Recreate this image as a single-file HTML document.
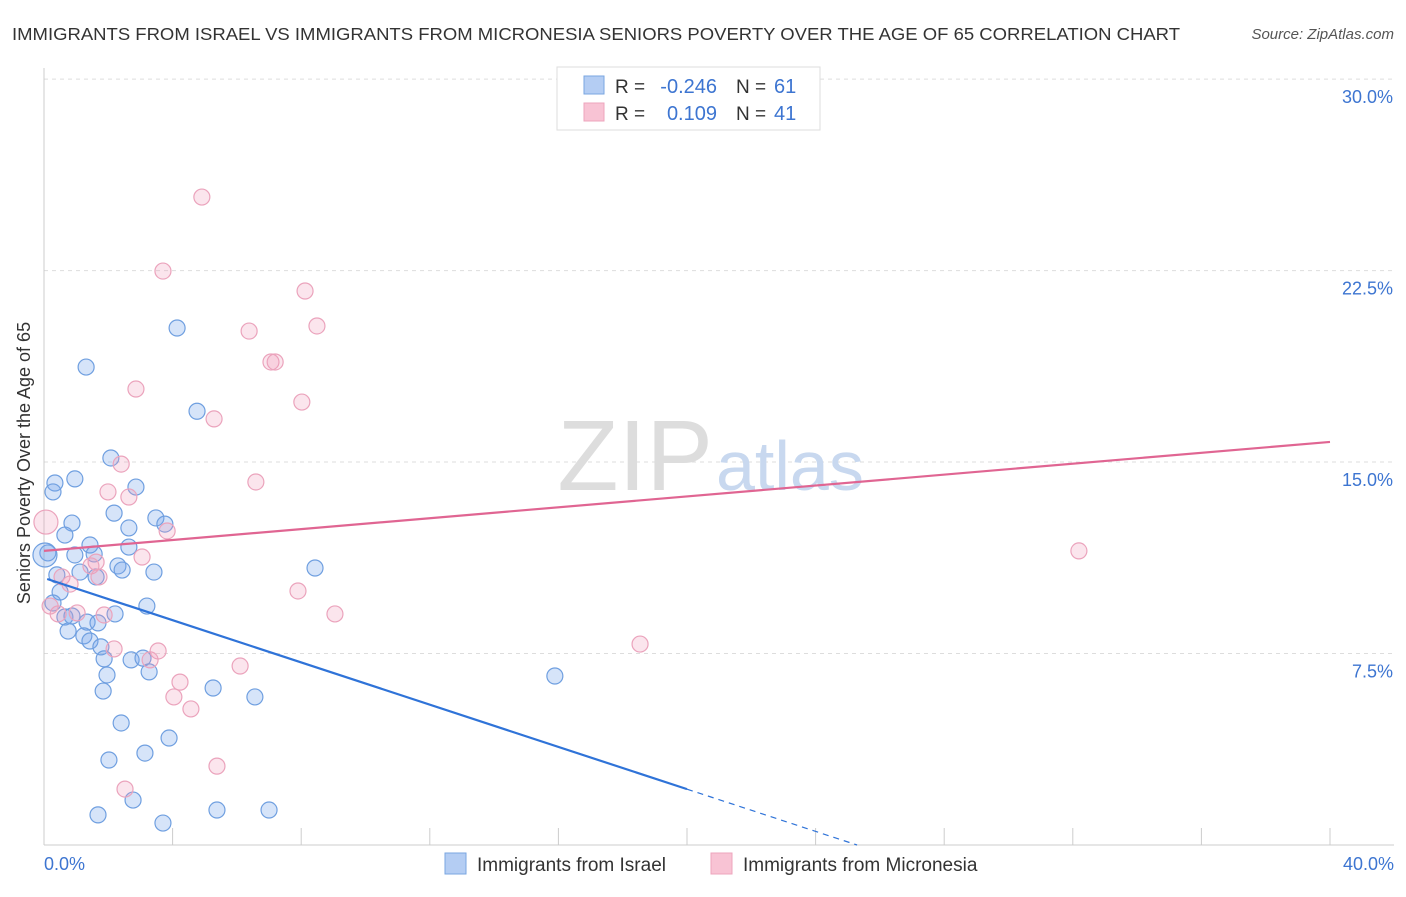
<!DOCTYPE html>
<html><head><meta charset="utf-8"><style>
body{margin:0;background:#fff;font-family:"Liberation Sans",sans-serif}
svg text{font-family:"Liberation Sans",sans-serif}
</style></head><body>
<svg id="chart" width="1406" height="892" xmlns="http://www.w3.org/2000/svg">
<text x="12" y="40" font-size="17.5" fill="#333" textLength="1168" lengthAdjust="spacingAndGlyphs">IMMIGRANTS FROM ISRAEL VS IMMIGRANTS FROM MICRONESIA SENIORS POVERTY OVER THE AGE OF 65 CORRELATION CHART</text>
<text x="1394" y="39" font-size="15" fill="#555" font-style="italic" text-anchor="end">Source: ZipAtlas.com</text>
<g id="grid"></g>
<text x="713" y="490" font-size="100" fill="#ddd" text-anchor="end" font-family="Liberation Serif">ZIP</text>
<text x="716" y="490" font-size="70" fill="#c8d8ef">atlas</text>
<g id="marks"></g>
<text x="22" y="455" font-size="18" fill="#333" text-anchor="middle" transform="rotate(-90 30 455)">Seniors Poverty Over the Age of 65</text>
<g>
<rect x="557" y="67" width="263" height="63" fill="#fff" stroke="#ddd"/>
<rect x="584" y="76" width="20" height="18" fill="#b4cdf3" stroke="#7aa6e0"/>
<text x="615" y="93" font-size="19" fill="#333">R =</text>
<text x="717" y="93" font-size="20" fill="#3d75d1" text-anchor="end">-0.246</text>
<text x="736" y="93" font-size="19" fill="#333">N =</text>
<text x="774" y="93" font-size="20" fill="#3d75d1">61</text>
<rect x="584" y="103" width="20" height="18" fill="#f8c3d4" stroke="#eea5bd"/>
<text x="615" y="120" font-size="19" fill="#333">R =</text>
<text x="717" y="120" font-size="20" fill="#3d75d1" text-anchor="end">0.109</text>
<text x="736" y="120" font-size="19" fill="#333">N =</text>
<text x="774" y="120" font-size="20" fill="#3d75d1">41</text>
</g>
<g>
<rect x="445" y="853" width="21" height="21" fill="#b4cdf3" stroke="#7aa6e0"/>
<text x="477" y="871" font-size="19" fill="#333">Immigrants from Israel</text>
<rect x="711" y="853" width="21" height="21" fill="#f8c3d4" stroke="#eea5bd"/>
<text x="743" y="871" font-size="19" fill="#333">Immigrants from Micronesia</text>
</g>
</svg>
<script>
const yTicks=[7.5,15,22.5,30];
const yTickLabels=["7.5%","15.0%","22.5%","30.0%"];
const xTicks=[0,4,8,12,16,20,24,28,32,36,40];
const israelX=[4.14,1.31,4.76,2.08,0.34,0.96,2.86,2.18,3.48,3.76,0.87,2.64,0.65,1.43,2.64,0.12,0.96,1.56,2.30,2.43,3.42,0.40,1.12,1.62,8.43,0.50,0.28,3.20,2.21,0.65,0.87,1.34,1.68,0.75,1.24,1.43,1.77,1.87,2.71,3.08,3.27,1.96,1.84,5.26,6.56,15.89,2.40,3.89,3.14,2.02,2.77,1.68,3.70,5.38,7.00,0.03,0.28];
const israelY=[20.25,18.72,16.99,15.16,14.18,14.34,14.02,13.00,12.81,12.57,12.61,12.42,12.14,11.75,11.67,11.44,11.36,11.40,10.93,10.77,10.69,10.58,10.69,10.50,10.85,9.91,9.48,9.36,9.05,8.93,8.97,8.73,8.70,8.38,8.19,7.99,7.76,7.29,7.25,7.32,6.78,6.66,6.03,6.15,5.80,6.62,4.78,4.19,3.60,3.33,1.76,1.18,0.86,1.37,1.37,11.36,13.83];
const micX=[4.91,3.70,8.12,8.49,6.38,7.06,7.19,2.86,8.02,5.29,2.40,6.59,1.99,2.64,3.83,0.06,3.05,1.62,1.46,0.56,1.71,0.81,7.90,9.05,1.87,1.03,0.44,2.18,3.55,3.30,6.10,18.54,4.23,4.04,4.57,5.38,2.52,32.19,0.19];
const micY=[25.38,22.48,21.70,20.33,20.13,18.92,18.92,17.86,17.35,16.69,14.92,14.22,13.83,13.63,12.30,12.65,11.28,11.08,10.93,10.50,10.50,10.22,9.95,9.05,9.01,9.09,9.05,7.68,7.60,7.25,7.01,7.87,6.38,5.80,5.33,3.09,2.19,11.52,9.36];
const israelTrend=[10.46,-0.4136];
const micTrend=[11.52,0.1067];
const NS="http://www.w3.org/2000/svg";
const X=v=>44+v*32.15, Y=v=>845-v*25.53;
function mk(t,a,p){const e=document.createElementNS(NS,t);for(const k in a)e.setAttribute(k,a[k]);p.appendChild(e);return e;}
const g=document.getElementById('grid'),m=document.getElementById('marks');
yTicks.forEach((t,i)=>{
 const l=mk('line',{x1:44,x2:1394,y1:Y(t),y2:Y(t),stroke:'#ddd','stroke-dasharray':'4,4'},g);
 
 
 const tx=mk('text',{x:1393,y:Y(t)+24,'font-size':18,fill:'#3d75d1','text-anchor':'end'},g);tx.textContent=yTickLabels[i];
 
 
});
const ax=mk('line',{x1:44,x2:1394,y1:845,y2:845,stroke:'#ccc'},g);


const ay=mk('line',{x1:44,x2:44,y1:68,y2:845,stroke:'#ccc'},g);


xTicks.forEach(t=>{const l=mk('line',{x1:X(t),x2:X(t),y1:828,y2:845,stroke:'#ccc'},g);
 
 });
[[0,'0.0%','start',44],[40,'40.0%','end',1394]].forEach(d=>{const t=mk('text',{x:d[3],y:870,'font-size':18,fill:'#3d75d1','text-anchor':d[2]},g);t.textContent=d[1];
 
 });
function pts(xs,ys,fill,stroke,name){xs.forEach((x,i)=>{const big=(x<0.1);const c=mk('circle',{cx:X(x),cy:Y(ys[i]),r:big?12:8,fill:fill,stroke:stroke,'stroke-width':1.2},m);
 
 });}
pts(israelX,israelY,'rgba(120,165,235,0.3)','#6f9fe0','israel-point');
pts(micX,micY,'rgba(240,150,185,0.25)','#eba3bc','micronesia-point');
const b0=0.1,b1=20,b2=(0-israelTrend[0])/israelTrend[1];
const bl=mk('line',{x1:X(b0),y1:Y(israelTrend[0]+israelTrend[1]*b0),x2:X(b1),y2:Y(israelTrend[0]+israelTrend[1]*b1),stroke:'#2f73d8','stroke-width':2.2},m);


const bd=mk('line',{x1:X(b1),y1:Y(israelTrend[0]+israelTrend[1]*b1),x2:X(b2),y2:Y(0),stroke:'#2f73d8','stroke-width':1.2,'stroke-dasharray':'6,5'},m);


const pl=mk('line',{x1:X(0),y1:Y(micTrend[0]),x2:X(40),y2:Y(micTrend[0]+micTrend[1]*40),stroke:'#e06592','stroke-width':2.2},m);


</script>
</body></html>
